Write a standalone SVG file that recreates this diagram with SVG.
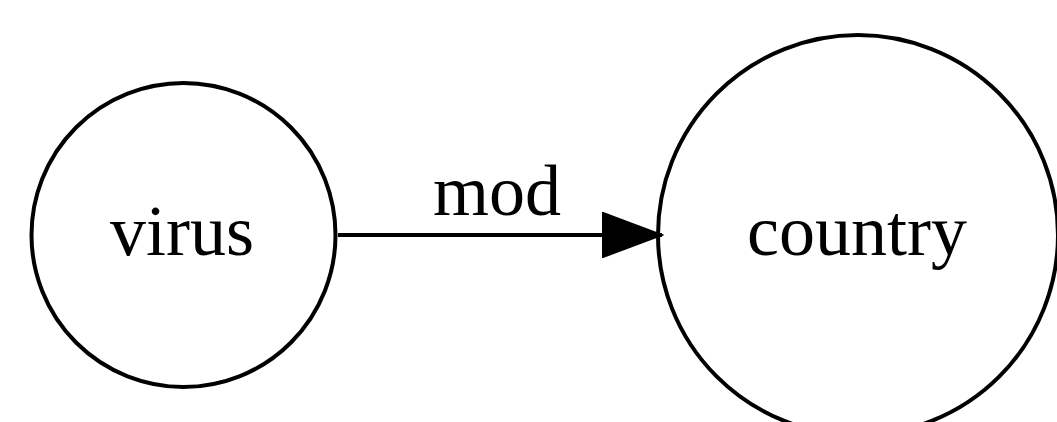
<svg xmlns="http://www.w3.org/2000/svg" width="1057" height="422" viewBox="0 0 1057 422">
  <style>
    .node { fill: none; stroke: #000; stroke-width: 4; }
    .edge { fill: none; stroke: #000; stroke-width: 4; }
    .label { font-family: "Liberation Serif", "Times New Roman", serif; font-size: 72px; fill: #000; text-anchor: middle; }
  </style>
  <defs>
    <marker id="arrow" markerUnits="userSpaceOnUse" markerWidth="62" markerHeight="46" refX="60" refY="23" orient="auto">
      <path d="M1,1 L60,23 L1,45 Z" fill="#000" stroke="#000" stroke-width="2"/>
    </marker>
  </defs>
  <rect width="1057" height="422" fill="#fff"/>
  <g id="connectors">
    <g id="edge-virus-country">
      <path class="edge" d="M338,235 L662,235" marker-end="url(#arrow)"/>
      <text class="label" x="497" y="215">mod</text>
    </g>
  </g>
  <g id="node-virus">
    <circle class="node" cx="183.5" cy="235" r="152"/>
    <text class="label" x="182" y="255">virus</text>
  </g>
  <g id="node-country">
    <circle class="node" cx="858" cy="235" r="200"/>
    <text class="label" x="857" y="255">country</text>
  </g>
</svg>
